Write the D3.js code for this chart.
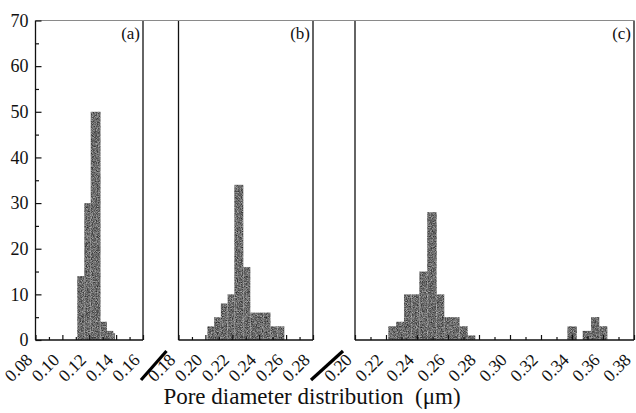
<!DOCTYPE html>
<html>
<head>
<meta charset="utf-8">
<script src="https://cdn.jsdelivr.net/npm/d3@7"></script>
<style>
  html, body { margin: 0; padding: 0; background: #fff; }
  svg { display: block; }
</style>
</head>
<body>
<svg id="chart" width="636" height="413"></svg>
<script>
// Panel labels and axis ticks
const panelLabels = ["(a)", "(b)", "(c)"];
const yTicks = [0, 10, 20, 30, 40, 50, 60, 70];
const yMinorTicks = [5, 15, 25, 35, 45, 55, 65];
const xTicksA = [0.08, 0.10, 0.12, 0.14, 0.16];
const xMinorA = [0.09, 0.11, 0.13, 0.15];
const xTicksB = [0.18, 0.20, 0.22, 0.24, 0.26, 0.28];
const xMinorB = [0.19, 0.21, 0.23, 0.25, 0.27];
const xTicksC = [0.20, 0.22, 0.24, 0.26, 0.28, 0.30, 0.32, 0.34, 0.36, 0.38];
const xMinorC = [0.21, 0.23, 0.25, 0.27, 0.29, 0.31, 0.33, 0.35, 0.37];

// Histogram bins: edges (µm) and frequency per bin
const edgesA = [0.1111, 0.1163, 0.1211, 0.1284, 0.1332, 0.1379, 0.1392];
const countsA = [14, 30, 50, 4, 2, 1.5];
const edgesB = [0.2015, 0.2065, 0.2115, 0.2165, 0.2215, 0.2282, 0.2334, 0.2384, 0.2434, 0.2484, 0.2535, 0.2587];
const countsB = [3, 5, 8, 10, 34, 16, 6, 6, 6, 3, 3];
const edgesC = [0.2215, 0.2265, 0.2316, 0.2366, 0.2415, 0.2466, 0.2527, 0.2576, 0.2626, 0.2675, 0.2727, 0.2776];
const countsC = [3, 4, 10, 10, 15, 28, 10, 5, 5, 3, 1];
const edgesC2 = [0.3370, 0.3431];
const countsC2 = [3];
const edgesC3 = [0.3469, 0.3523, 0.3576, 0.3628];
const countsC3 = [2, 5, 3];

const xTitle = "Pore diameter distribution\u00a0\u00a0(\u03bcm)";

const SERIF = '"Liberation Serif", "Times New Roman", Tinos, "DejaVu Serif", serif';

const svg = d3.select("#chart");

// grainy grey fill for the bars
const defs = svg.append("defs");
const grain = defs.append("filter").attr("id", "grain")
  .attr("filterUnits", "userSpaceOnUse")
  .attr("color-interpolation-filters", "sRGB")
  .attr("x", 0).attr("y", 0).attr("width", 636).attr("height", 413);
grain.append("feTurbulence").attr("type", "fractalNoise")
  .attr("baseFrequency", 1.2).attr("numOctaves", 1).attr("seed", 5).attr("result", "n");
grain.append("feColorMatrix").attr("in", "n").attr("type", "matrix")
  .attr("values", "0.9 0 0 0 -0.03  0.9 0 0 0 -0.03  0.9 0 0 0 -0.03  0 0 0 0 1")
  .attr("result", "g");
grain.append("feComposite").attr("in", "g").attr("in2", "SourceGraphic").attr("operator", "in");

const y = d3.scaleLinear().domain([0, 70]).range([340, 20.5]);

const panels = [
  { label: panelLabels[0], domain: [0.08, 0.16], range: [35.5, 143], ticks: xTicksA, minor: xMinorA,
    groups: [[edgesA, countsA]] },
  { label: panelLabels[1], domain: [0.18, 0.28], range: [178.5, 313], ticks: xTicksB, minor: xMinorB,
    groups: [[edgesB, countsB]] },
  { label: panelLabels[2], domain: [0.20, 0.38], range: [355, 634], ticks: xTicksC, minor: xMinorC,
    groups: [[edgesC, countsC], [edgesC2, countsC2], [edgesC3, countsC3]] }
];

const fmt = d3.format(".2f");
const y0 = y(0), yTop = y(70);

panels.forEach(p => {
  const x = d3.scaleLinear().domain(p.domain).range(p.range);
  const g = svg.append("g");

  // bars
  const bars = g.append("g").attr("filter", "url(#grain)");
  p.groups.forEach(([edges, counts]) => {
    bars.selectAll(null).data(counts).join("rect")
      .attr("x", (d, i) => x(edges[i]))
      .attr("width", (d, i) => x(edges[i + 1]) - x(edges[i]))
      .attr("y", d => y(d))
      .attr("height", d => y0 - y(d))
      .attr("fill", "#666");
  });

  // minor x ticks
  const minorAxis = g.append("g").attr("transform", `translate(0,${y0})`)
    .call(d3.axisBottom(x).tickValues(p.minor).tickSize(-3).tickFormat(""));
  minorAxis.select(".domain").remove();
  minorAxis.selectAll("line").attr("stroke", "#111").attr("stroke-width", 1.2);

  // major x ticks + rotated labels
  const ax = g.append("g").attr("transform", `translate(0,${y0})`)
    .call(d3.axisBottom(x).tickValues(p.ticks).tickSize(-5).tickSizeOuter(0).tickFormat(fmt));
  ax.select(".domain").remove();
  ax.selectAll("line").attr("stroke", "#111").attr("stroke-width", 1.2);
  ax.selectAll("text")
    .attr("x", 0).attr("y", 0).attr("dy", 0)
    .attr("text-anchor", "end")
    .attr("transform", "translate(-2.5,21) rotate(-45)")
    .style("font-family", SERIF).style("font-size", "17.5px").style("fill", "#111");

  // frame: bottom axis and both sides
  g.append("line").attr("x1", p.range[0]).attr("x2", p.range[1]).attr("y1", y0).attr("y2", y0)
    .attr("stroke", "#111").attr("stroke-width", 1.4);
  [p.range[0], p.range[1]].forEach(xx => {
    g.append("line").attr("x1", xx).attr("x2", xx).attr("y1", yTop).attr("y2", y0)
      .attr("stroke", "#111").attr("stroke-width", 1.3);
  });

  // panel tag
  g.append("text").attr("x", p.range[1] - 3).attr("y", 39)
    .attr("text-anchor", "end")
    .style("font-family", SERIF).style("font-size", "17px").style("fill", "#111")
    .text(p.label);
});

// top border runs across all panels
svg.append("line").attr("x1", panels[0].range[0]).attr("x2", panels[2].range[1])
  .attr("y1", yTop).attr("y2", yTop).attr("stroke", "#8a8a8a").attr("stroke-width", 1.2);

// y axis on the first panel, ticks pointing inward
const xa0 = panels[0].range[0];
const yMinor = svg.append("g").attr("transform", `translate(${xa0},0)`)
  .call(d3.axisLeft(y).tickValues(yMinorTicks).tickSize(-3.5).tickFormat(""));
yMinor.select(".domain").remove();
yMinor.selectAll("line").attr("stroke", "#111").attr("stroke-width", 1.2);
const yAx = svg.append("g").attr("transform", `translate(${xa0},0)`)
  .call(d3.axisLeft(y).tickValues(yTicks).tickSize(-6).tickPadding(7));
yAx.select(".domain").remove();
yAx.selectAll("line").attr("stroke", "#111").attr("stroke-width", 1.2);
yAx.selectAll("text")
  .style("font-family", SERIF).style("font-size", "18px").style("fill", "#111");

// axis-break slashes between panels
[[panels[0], panels[1]], [panels[1], panels[2]]].forEach(([l, r]) => {
  svg.append("line")
    .attr("x1", l.range[1] - 2).attr("y1", y0 + 40)
    .attr("x2", r.range[0] - 12).attr("y2", y0 + 11)
    .attr("stroke", "#000").attr("stroke-width", 3.2);
});

// x-axis title
svg.append("text")
  .attr("x", 312).attr("y", 404)
  .attr("text-anchor", "middle")
  .style("font-family", SERIF).style("font-size", "23px").style("fill", "#111")
  .text(xTitle);
</script>
</body>
</html>
